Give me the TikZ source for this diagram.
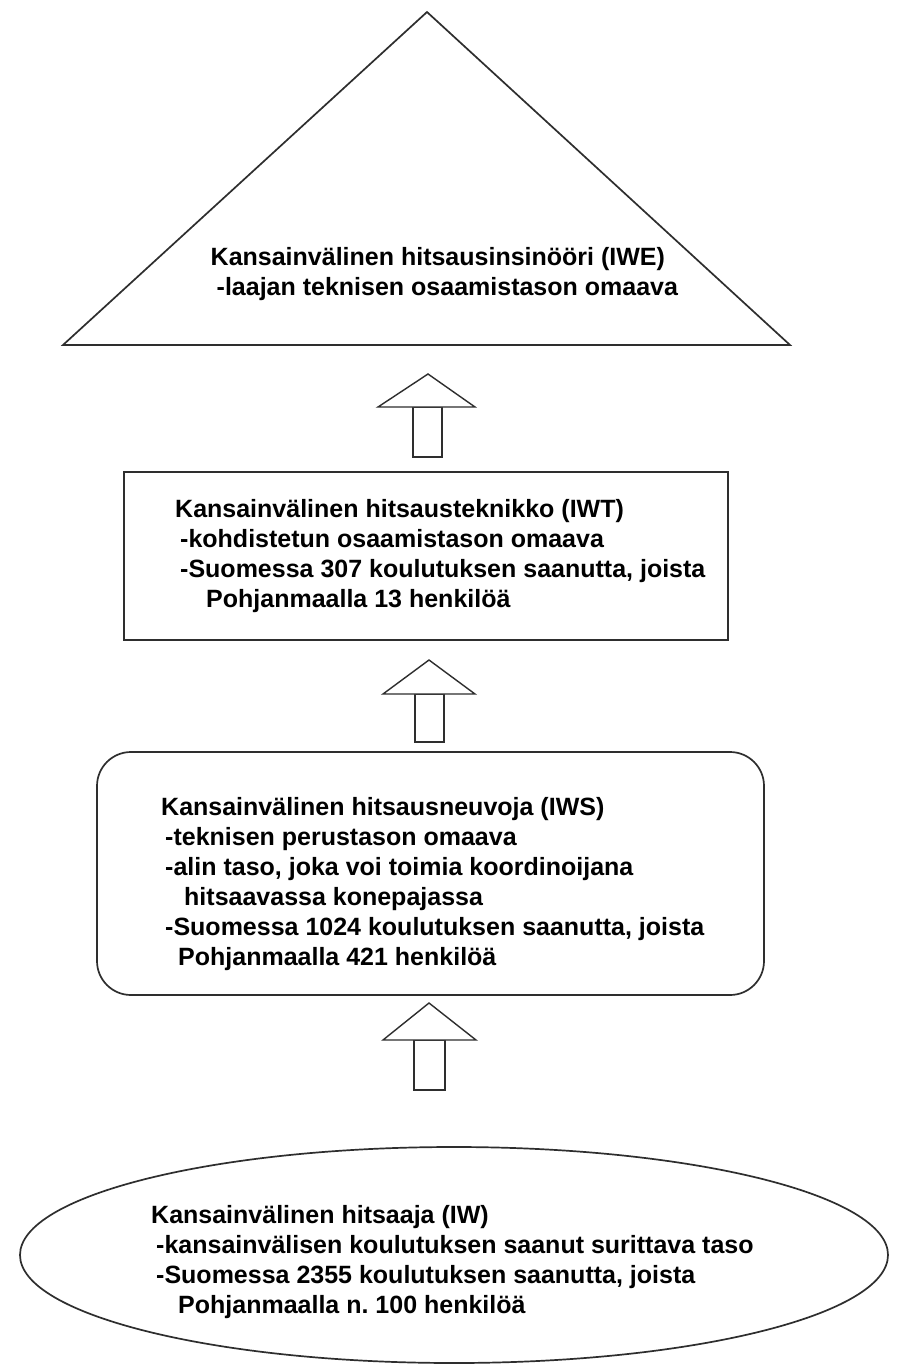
\documentclass[tikz,border=0pt]{standalone}
\usepackage{fontspec}
\setmainfont{Liberation Sans}
\frenchspacing
\begin{document}
\begin{tikzpicture}[x=1pt,y=-1pt,line join=miter]
\tikzset{
  outline/.style={draw=black!82,line width=1.7pt},
  uparrow/.style={draw=black!82,line width=1.4pt,fill=white},
  levelText/.style={font=\bfseries\fontsize{25}{30}\selectfont,align=left,
    anchor=north west,inner sep=0pt,text=black},
}
\useasboundingbox (0,0) rectangle (901,1367);
\fill[white] (0,0) rectangle (901,1367);

% top level: triangle
\coordinate (triApex) at (427,12);
\coordinate (triL) at (63,345);
\coordinate (triR) at (790,345);
\draw[outline] (triApex) -- (triR) -- (triL) -- cycle;
\node[levelText] (iwe) at (210.5,246.7) {Kansainvälinen hitsausinsinööri (IWE)\\
  \hspace*{6pt}-laajan teknisen osaamistason omaava};

% arrow between IWT and IWE
\draw[uparrow] (413,407) rectangle (442,457);
\draw[uparrow] (428,374) -- (475,407) -- (378,407) -- cycle;

% second level: rectangle
\node[outline,rectangle,minimum width=604pt,minimum height=168pt,inner sep=0pt]
  (iwtbox) at (426,556) {};
\node[levelText] (iwt) at (175,499.3) {Kansainvälinen hitsausteknikko (IWT)\\
  \hspace*{5pt}-kohdistetun osaamistason omaava\\
  \hspace*{5pt}-Suomessa 307 koulutuksen saanutta, joista\\
  \hspace*{31pt}Pohjanmaalla 13 henkilöä};

% arrow between IWS and IWT
\draw[uparrow] (415,694) rectangle (444,742);
\draw[uparrow] (429,660) -- (475,694) -- (383,694) -- cycle;

% third level: rounded rectangle
\node[outline,rectangle,rounded corners=34pt,minimum width=667pt,minimum height=243pt,inner sep=0pt]
  (iwsbox) at (430.5,873.5) {};
\node[levelText] (iws) at (161,797.2) {Kansainvälinen hitsausneuvoja (IWS)\\
  \hspace*{4pt}-teknisen perustason omaava\\
  \hspace*{4pt}-alin taso, joka voi toimia koordinoijana\\
  \hspace*{23pt}hitsaavassa konepajassa\\
  \hspace*{4pt}-Suomessa 1024 koulutuksen saanutta, joista\\
  \hspace*{17pt}Pohjanmaalla 421 henkilöä};

% arrow between IW and IWS
\draw[uparrow] (414,1040) rectangle (445,1090);
\draw[uparrow] (429,1003) -- (476,1040) -- (383,1040) -- cycle;

% bottom level: ellipse
\draw[outline] (454,1255) ellipse [x radius=434pt,y radius=108pt];
\node[levelText] (iw) at (151,1204.7) {Kansainvälinen hitsaaja (IW)\\
  \hspace*{5pt}-kansainvälisen koulutuksen saanut surittava taso\\
  \hspace*{5pt}-Suomessa 2355 koulutuksen saanutta, joista\\
  \hspace*{27pt}Pohjanmaalla n. 100 henkilöä};
\end{tikzpicture}
\end{document}
